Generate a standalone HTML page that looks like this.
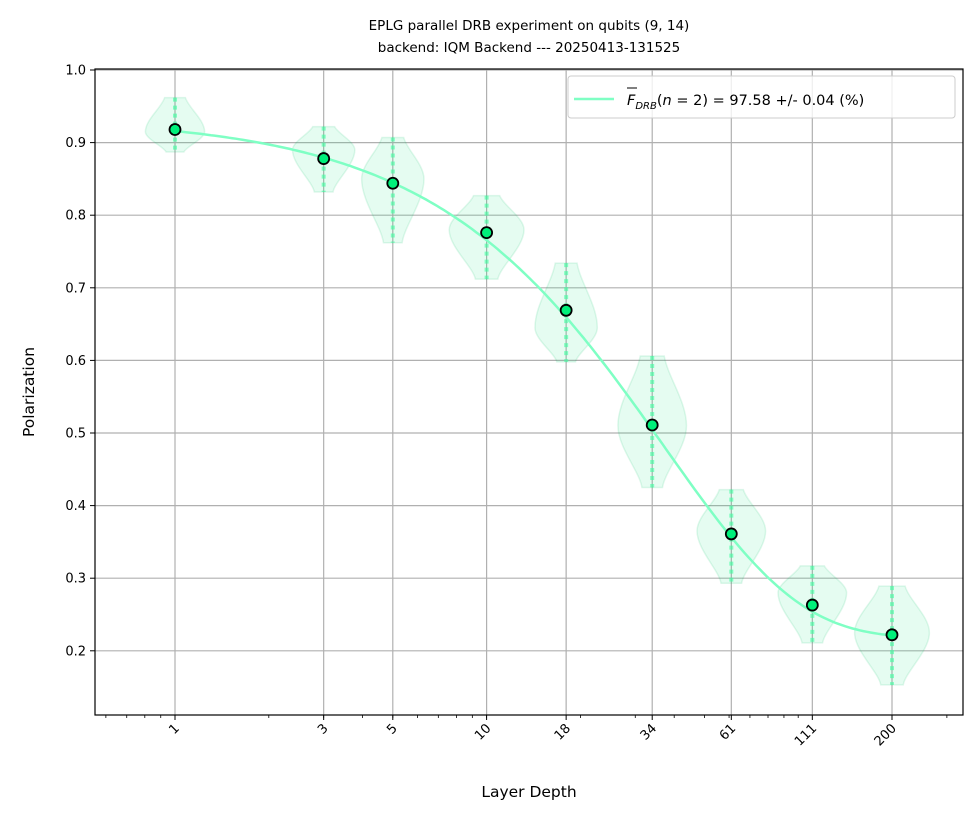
<!DOCTYPE html>
<html><head><meta charset="utf-8"><style>
body{margin:0;background:#fff;font-family:"Liberation Sans","DejaVu Sans",sans-serif}
svg text{font-family:"DejaVu Sans","Liberation Sans",sans-serif}
</style></head><body>
<svg id="chart" width="980" height="819" xmlns="http://www.w3.org/2000/svg">
<text x="529" y="30" font-size="13.5" text-anchor="middle">EPLG parallel DRB experiment on qubits (9, 14)</text>
<text x="529" y="52" font-size="13.5" text-anchor="middle">backend: IQM Backend --- 20250413-131525</text>
<g id="grid"></g><g id="violins"></g><g id="fit"></g><g id="pts"></g><g id="axes"></g>
<text x="529" y="797" font-size="15.5" text-anchor="middle">Layer Depth</text>
<text transform="translate(34,392) rotate(-90)" font-size="15.5" text-anchor="middle">Polarization</text>
<g>
<rect x="568" y="76" width="387" height="42" rx="3" fill="#fff" fill-opacity="0.8" stroke="#ccc"/>
<line x1="574" y1="99" x2="614" y2="99" stroke="#7fffc4" stroke-width="2.5"/>
<text x="627" y="105" font-size="14.5"><tspan font-style="italic">F</tspan><tspan font-style="italic" font-size="10" dy="4">DRB</tspan><tspan dy="-4">(</tspan><tspan font-style="italic">n</tspan> = 2) = 97.58 +/- 0.04 (%)</text>
<line x1="627" y1="88" x2="637" y2="88" stroke="#000" stroke-width="1"/>
</g>
</svg>
<script>
const depths=[1,3,5,10,18,34,61,111,200];
const means=[0.918,0.878,0.844,0.776,0.669,0.511,0.361,0.263,0.222];
const mins=[0.887,0.832,0.762,0.712,0.598,0.425,0.293,0.211,0.153];
const maxs=[0.962,0.922,0.907,0.827,0.734,0.606,0.422,0.317,0.289];
const modes=[0.915,0.89,0.85,0.78,0.645,0.51,0.365,0.28,0.225];
const spreads=[0.095,0.1,0.1,0.12,0.1,0.11,0.11,0.11,0.12];
const yTicks=[0.2,0.3,0.4,0.5,0.6,0.7,0.8,0.9,1.0];
const xTicks=[1,3,5,10,18,34,61,111,200];
const fitA=0.717,fitP=0.9734,fitB=0.218;
const L=95,R=963,T=69,B=715;
const X=v=>175+Math.log10(v)*311.6;
const Y=v=>70+(1.0-v)*726;
const ns="http://www.w3.org/2000/svg";
function mk(tag,parent,attrs){const e=document.createElementNS(ns,tag);for(const k in attrs)e.setAttribute(k,attrs[k]);document.getElementById(parent).appendChild(e);return e;}
xTicks.forEach(t=>{const g=mk('line','grid',{x1:X(t),x2:X(t),y1:T,y2:B,stroke:'#b0b0b0','stroke-width':1.2});

});
yTicks.forEach(t=>{const g=mk('line','grid',{x1:L,x2:R,y1:Y(t),y2:Y(t),stroke:'#b0b0b0','stroke-width':1.2});

});
depths.forEach((d,i)=>{
 const cx=X(d),top=Y(maxs[i]),bot=Y(mins[i]),my=Y(modes[i]),w=spreads[i]*311.6;
 const tw=w*0.35,bw=w*0.3;
 const p=`M${cx},${top} L${cx+tw},${top} C${cx+tw*1.3},${top+(my-top)*0.3} ${cx+w},${my-(my-top)*0.35} ${cx+w},${my} C${cx+w},${my+(bot-my)*0.35} ${cx+bw*1.2},${bot-(bot-my)*0.25} ${cx+bw},${bot} L${cx-bw},${bot} C${cx-bw*1.2},${bot-(bot-my)*0.25} ${cx-w},${my+(bot-my)*0.35} ${cx-w},${my} C${cx-w},${my-(my-top)*0.35} ${cx-tw*1.3},${top+(my-top)*0.3} ${cx-tw},${top}Z`;
 const v=mk('path','violins',{d:p,fill:'#00e676','fill-opacity':0.1,stroke:'#00c060','stroke-opacity':0.12,'stroke-width':1.5});
 
 
 const s=mk('line','violins',{x1:cx,x2:cx,y1:top,y2:bot,stroke:'#3dffa0','stroke-opacity':0.6,'stroke-width':4,'stroke-dasharray':'4 4'});
 
 
});
let dp='';for(let k=0;k<=200;k++){const m=Math.pow(10,k/200*Math.log10(200));const y=fitB+fitA*Math.pow(fitP,m);dp+=(k?'L':'M')+X(m).toFixed(1)+','+Y(y).toFixed(1);}
const f=mk('path','fit',{d:dp,fill:'none',stroke:'#7fffc4','stroke-width':2.5});


depths.forEach((d,i)=>{const c=mk('circle','pts',{cx:X(d),cy:Y(means[i]),r:5.5,fill:'#00f07a',stroke:'#000','stroke-width':1.8});

});
const fr=mk('rect','axes',{x:L,y:T,width:R-L,height:B-T,fill:'none',stroke:'#000','stroke-width':1.2});


yTicks.forEach(t=>{mk('line','axes',{x1:L-5,x2:L,y1:Y(t),y2:Y(t),stroke:'#000'});
const tx=mk('text','axes',{x:L-9,y:Y(t)+4.5,'font-size':13,'text-anchor':'end'});tx.textContent=t.toFixed(1);

});
xTicks.forEach(t=>{mk('line','axes',{x1:X(t),x2:X(t),y1:B,y2:B+5,stroke:'#000'});
const tx=mk('text','axes',{transform:`translate(${X(t)+5},${B+14}) rotate(-45)`,'font-size':13,'text-anchor':'end'});tx.textContent=t;

});
for(let dec=0.1;dec<=100;dec*=10){for(let k=1;k<10;k++){const v=dec*k;const x=X(v);if(x>L&&x<R)mk('line','axes',{x1:x,x2:x,y1:B,y2:B+3,stroke:'#000','stroke-width':0.8});}}
</script>
</body></html>
